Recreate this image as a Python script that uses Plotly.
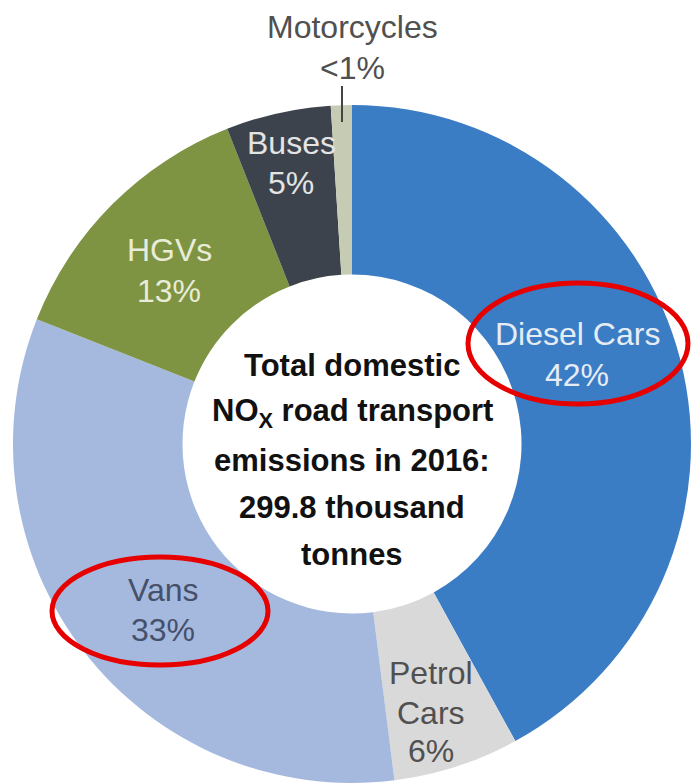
import plotly.graph_objects as go

W, H = 694, 783

categories = ["Diesel Cars", "Petrol Cars", "Vans", "HGVs", "Buses", "Motorcycles"]
values = [42, 6, 33, 13, 5, 1]
pct_labels = ["42%", "6%", "33%", "13%", "5%", "<1%"]
colors = ["#3b7dc4", "#d9d9d9", "#a5b9df", "#7e9443", "#3c434c", "#c6ccb4"]

center_lines = ["Total domestic", "NO<sub>X</sub> road transport", "emissions in 2016:",
                "299.8 thousand", "tonnes"]

# pie geometry (pixels)
cx, cy, R = 352, 444, 339


def px(x, y):
    return x / W, 1 - y / H


fig = go.Figure(go.Pie(
    labels=categories, values=values, sort=False, direction="clockwise", rotation=0,
    hole=0.5, textinfo="none", hoverinfo="label+percent",
    marker=dict(colors=colors, line=dict(width=0)),
    domain=dict(x=[(cx - R) / W, (cx + R) / W], y=[1 - (cy + R) / H, 1 - (cy - R) / H]),
    showlegend=False,
))

annotations = []
FONT = "Liberation Sans, Arial, sans-serif"


def add_label(lines, x, ys, color, size=32):
    for line, y in zip(lines, ys):
        ax, ay = px(x, y)
        annotations.append(dict(x=ax, y=ay, xref="paper", yref="paper", text=line,
                                showarrow=False, xanchor="center", yanchor="middle",
                                font=dict(family=FONT, size=size, color=color)))


white = "#e6ecf4"
dark = "#505050"
add_label([categories[0], pct_labels[0]], 577, [334, 375], white)
add_label(["Petrol", "Cars", pct_labels[1]], 431, [673, 713, 751], dark)
add_label([categories[2], pct_labels[2]], 163, [590, 630], "#46506a")
add_label([categories[3], pct_labels[3]], 169, [250, 291], "#e8ecd8")
add_label([categories[4], pct_labels[4]], 291, [143, 183], "#e4e4e4")
add_label([categories[5], pct_labels[5]], 352, [27, 68], dark)

for i, line in enumerate(center_lines):
    ax, ay = px(352, 366 + 47 * i)
    annotations.append(dict(x=ax, y=ay, xref="paper", yref="paper",
                            text="<b>" + line + "</b>", showarrow=False,
                            xanchor="center", yanchor="middle",
                            font=dict(family=FONT, size=31, color="#111111")))

shapes = []
x0, y0 = px(342, 86)
x1, y1 = px(342, 122)
shapes.append(dict(type="line", xref="paper", yref="paper", x0=x0, y0=y0, x1=x1, y1=y1,
                   line=dict(color="#444444", width=2)))
for (ex0, ey0, ex1, ey1) in [(468, 283, 688, 404), (52, 557, 268, 665)]:
    a0, b0 = px(ex0, ey0)
    a1, b1 = px(ex1, ey1)
    shapes.append(dict(type="circle", xref="paper", yref="paper", x0=a0, y0=b1, x1=a1, y1=b0,
                       line=dict(color="#e60000", width=5)))

fig.update_layout(width=W, height=H, margin=dict(l=0, r=0, t=0, b=0),
                  paper_bgcolor="white", plot_bgcolor="white",
                  annotations=annotations, shapes=shapes)

fig.write_html("out.html")
